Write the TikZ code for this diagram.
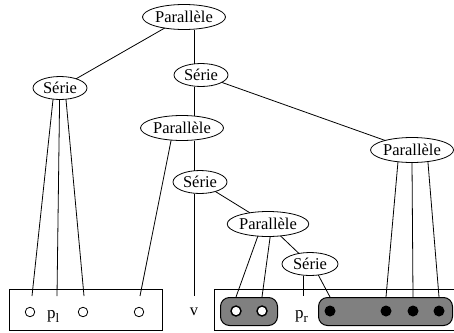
\documentclass[tikz,border=0pt]{standalone}
\usepackage{fontspec}
\setmainfont{Liberation Serif}
\usetikzlibrary{shapes.geometric}
\newcommand{\subtxt}[1]{\raisebox{-4.5pt}{\fontsize{13}{15}\selectfont #1}}
\begin{document}
\begin{tikzpicture}[x=1pt,y=-1pt,
  every node/.style={font=\fontsize{16.5}{19}\selectfont},
  par/.style={ellipse,draw,line width=0.8pt,inner sep=0pt,outer sep=0pt,minimum width=83pt,minimum height=25pt},
  ser/.style={ellipse,draw,line width=0.8pt,inner sep=0pt,outer sep=0pt,minimum width=54pt,minimum height=23pt},
  link/.style={line width=0.8pt},
  frame/.style={draw,line width=0.8pt},
  grp/.style={draw,fill=gray,line width=1pt,rounded corners=9pt},
  hole/.style={circle,draw,line width=0.8pt,inner sep=0pt,minimum size=9.5pt,fill=white},
  whitedot/.style={circle,draw,line width=1.4pt,inner sep=0pt,minimum size=10pt,fill=white},
  blackdot/.style={circle,fill=black,inner sep=0pt,minimum size=11pt},
  lbl/.style={inner sep=0pt,anchor=base west,font=\fontsize{17}{19}\selectfont}]
\useasboundingbox (0,0) rectangle (454,332);

% frames
\node[frame,inner sep=0pt,minimum width=153pt,minimum height=41pt,anchor=north west] (lbox) at (9,289) {};
\node[frame,inner sep=0pt,minimum width=239.5pt,minimum height=41pt,anchor=north west] (rbox) at (214,289) {};
\node[grp,inner sep=0pt,minimum width=57pt,minimum height=28pt,anchor=north west] (g1) at (220,297) {};
\node[grp,inner sep=0pt,minimum width=134pt,minimum height=28pt,anchor=north west] (g2) at (318,297) {};

% leaves
\node[hole] (c1) at (30,312) {};
\node[hole] (c2) at (83,312) {};
\node[hole] (c3) at (139,312) {};
\node[whitedot] (w1) at (236,311) {};
\node[whitedot] (w2) at (262,311) {};
\node[blackdot] (b1) at (330,311) {};
\node[blackdot] (b2) at (386,311) {};
\node[blackdot] (b3) at (413,311) {};
\node[blackdot] (b4) at (439,311) {};
\node[lbl] (pl) at (47,318) {p\subtxt{l}};
\node[lbl] (pr) at (295,318) {p\subtxt{r}};
\node[inner sep=0pt,anchor=base] (v) at (194,315) {v};

% line ends
\coordinate (vtop) at (194,296);
\coordinate (e1) at (32,296);
\coordinate (e2) at (57,296);
\coordinate (e3) at (84,296);
\coordinate (e4) at (140,296);
\coordinate (prtop) at (303,296);

% tree nodes
\node[par] (p0) at (184,17) {Parallèle};
\node[ser] (s1) at (60,88) {Série};
\node[ser] (s2) at (201,75) {Série};
\node[par] (p1) at (182,128) {Parallèle};
\node[par] (p2) at (412,150) {Parallèle};
\node[ser] (s3) at (200,182) {Série};
\node[par,minimum width=80pt] (p3) at (268,224) {Parallèle};
\node[ser,minimum width=56pt] (s4) at (310,264) {Série};

% connectors
\draw[link] (p0) -- (s1);
\draw[link] (p0.south -| vtop) -- (s2.north -| vtop);
\draw[link] (s2.south -| vtop) -- (p1.north -| vtop);
\draw[link] (p1.south -| vtop) -- (s3.north -| vtop);
\draw[link] (s3.south -| vtop) -- (vtop);
\draw[link] (s2) -- (p2);
\draw[link] (s1.238) -- (e1);
\draw[link] (s1.268) -- (e2);
\draw[link] (s1.298) -- (e3);
\draw[link] (p1.228) -- (e4);
\draw[link] (s3) -- (p3);
\draw[link] (p3.230) -- (w1 |- g1.north);
\draw[link] (p3.280) -- (w2 |- g1.north);
\draw[link] (p3) -- (s4);
\draw[link] (s4.south -| prtop) -- (prtop);
\draw[link] (s4.307) -- (b1 |- g2.north);
\draw[link] (p2.220) -- (b2 |- g2.north);
\draw[link] (p2.270) -- (b3 |- g2.north);
\draw[link] (p2.324) -- (b4 |- g2.north);
\end{tikzpicture}
\end{document}
